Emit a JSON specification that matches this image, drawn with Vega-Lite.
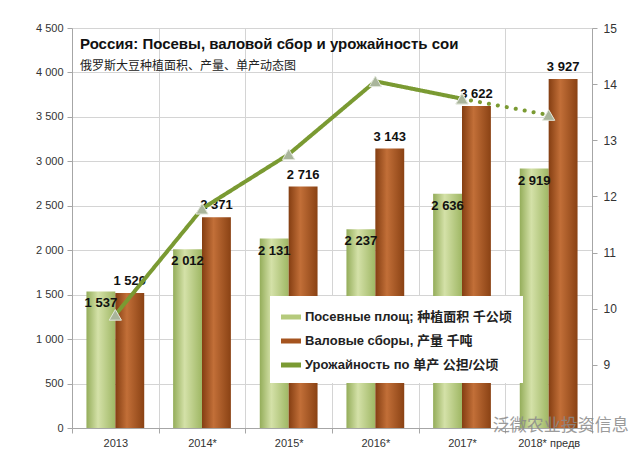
{
  "$schema": "https://vega.github.io/schema/vega-lite/v6.json",
  "width": 520,
  "height": 400,
  "autosize": "none",
  "padding": {"left": 72, "top": 28, "right": 48, "bottom": 33},
  "background": "white",
  "config": {
    "locale": {"number": {"decimal": ",", "thousands": " ", "grouping": [3], "currency": ["", ""]}},
    "font": "Liberation Sans",
    "view": {"stroke": null},
    "axis": {"labelFont": "Liberation Sans", "labelFontSize": 11, "labelColor": "#333333", "domainColor": "#a6a6a6", "tickColor": "#a6a6a6", "gridColor": "#d4d4d4", "title": null}
  },
  "title": {
    "text": "Россия: Посевы, валовой сбор и урожайность сои",
    "subtitle": "俄罗斯大豆种植面积、产量、单产动态图",
    "anchor": "start",
    "frame": "group",
    "orient": "top",
    "offset": -50,
    "dx": 8,
    "font": "Liberation Sans",
    "fontSize": 15,
    "fontWeight": "bold",
    "color": "#111111",
    "subtitleFont": "Noto Sans CJK SC",
    "subtitleFontSize": 12,
    "subtitleColor": "#222222",
    "subtitlePadding": 9
  },
  "datasets": {
    "bars": [
      {"year": "2013", "series": "area", "value": 1537},
      {"year": "2013", "series": "prod", "value": 1520},
      {"year": "2014*", "series": "area", "value": 2012},
      {"year": "2014*", "series": "prod", "value": 2371},
      {"year": "2015*", "series": "area", "value": 2131},
      {"year": "2015*", "series": "prod", "value": 2716},
      {"year": "2016*", "series": "area", "value": 2237},
      {"year": "2016*", "series": "prod", "value": 3143},
      {"year": "2017*", "series": "area", "value": 2636},
      {"year": "2017*", "series": "prod", "value": 3622},
      {"year": "2018* предв", "series": "area", "value": 2919},
      {"year": "2018* предв", "series": "prod", "value": 3927}
    ],
    "yield": [
      {"year": "2013", "yield": 9.89, "seg": "a"},
      {"year": "2014*", "yield": 11.78, "seg": "a"},
      {"year": "2015*", "yield": 12.75, "seg": "a"},
      {"year": "2016*", "yield": 14.05, "seg": "a"},
      {"year": "2017*", "yield": 13.74, "seg": "a"},
      {"year": "2017*", "yield": 13.74, "seg": "b"},
      {"year": "2018* предв", "yield": 13.45, "seg": "b"}
    ],
    "mark": [
      {"year": "2018* предв", "base": 0, "label": "泛微农业投资信息"}
    ]
  },
  "encoding": {
    "x": {
      "field": "year",
      "type": "nominal",
      "scale": {"domain": ["2013", "2014*", "2015*", "2016*", "2017*", "2018* предв"], "paddingInner": 0, "paddingOuter": 0},
      "axis": {"labelAngle": 0, "grid": true, "tickBand": "extent", "tickSize": 5, "labelPadding": 4, "domainColor": "#a6a6a6"}
    }
  },
  "layer": [
    {
      "encoding": {
        "y": {
          "field": "value",
          "type": "quantitative",
          "scale": {"domain": [0, 4500], "nice": false},
          "axis": {"values": [0, 500, 1000, 1500, 2000, 2500, 3000, 3500, 4000, 4500], "format": ",.0f", "grid": true, "tickSize": 5, "labelPadding": 4, "orient": "left"}
        }
      },
      "layer": [
        {
          "data": {"name": "bars"},
          "transform": [{"filter": "datum.series === 'area'"}],
          "mark": {"type": "bar", "fill": {"gradient": "linear", "x1": 0, "x2": 1, "y1": 0, "y2": 0, "stops": [{"offset": 0, "color": "#94ad5a"}, {"offset": 0.4, "color": "#d4e1a8"}, {"offset": 1, "color": "#9fb764"}]}},
          "encoding": {
            "xOffset": {"field": "series", "type": "nominal", "scale": {"domain": ["area", "prod"], "paddingOuter": 0.5, "paddingInner": 0}}
          }
        },
        {
          "data": {"name": "bars"},
          "transform": [{"filter": "datum.series === 'prod'"}],
          "mark": {"type": "bar", "fill": {"gradient": "linear", "x1": 0, "x2": 1, "y1": 0, "y2": 0, "stops": [{"offset": 0, "color": "#843e12"}, {"offset": 0.4, "color": "#c26f38"}, {"offset": 1, "color": "#8a4214"}]}},
          "encoding": {
            "xOffset": {"field": "series", "type": "nominal", "scale": {"domain": ["area", "prod"], "paddingOuter": 0.5, "paddingInner": 0}}
          }
        },
        {
          "data": {"name": "bars"},
          "transform": [{"filter": "datum.series === 'area'"}],
          "mark": {"type": "text", "fontSize": 13, "fontWeight": "bold", "color": "#111111", "dy": 12},
          "encoding": {
            "xOffset": {"field": "series", "type": "nominal", "scale": {"domain": ["area", "prod"], "paddingOuter": 0.5, "paddingInner": 0}},
            "text": {"field": "value", "type": "quantitative", "format": ",.0f"}
          }
        },
        {
          "data": {"name": "bars"},
          "transform": [{"filter": "datum.series === 'prod'"}],
          "mark": {"type": "text", "fontSize": 13, "fontWeight": "bold", "color": "#111111", "dy": -12},
          "encoding": {
            "xOffset": {"field": "series", "type": "nominal", "scale": {"domain": ["area", "prod"], "paddingOuter": 0.5, "paddingInner": 0}},
            "text": {"field": "value", "type": "quantitative", "format": ",.0f"}
          }
        },
        {
          "data": {"name": "mark"},
          "mark": {"type": "text", "font": "Noto Sans CJK SC", "fontSize": 17, "color": "#8a8a8a", "opacity": 0.85, "dx": 12, "dy": -2, "baseline": "middle"},
          "encoding": {
            "y": {"field": "base", "type": "quantitative"},
            "text": {"field": "label", "type": "nominal"}
          }
        }
      ]
    },
    {
      "data": {"name": "yield"},
      "encoding": {
        "y": {
          "field": "yield",
          "type": "quantitative",
          "scale": {"domain": [7.875, 15], "nice": false, "zero": false},
          "axis": {"orient": "right", "values": [9, 10, 11, 12, 13, 14, 15], "grid": false, "tickSize": 5, "labelPadding": 6, "labelFontSize": 12}
        }
      },
      "layer": [
        {
          "mark": {"type": "line", "strokeWidth": 4, "strokeCap": "round"},
          "encoding": {
            "color": {
              "datum": "Урожайность по 单产 公担/公顷",
              "type": "nominal",
              "scale": {
                "domain": ["Посевные площ; 种植面积 千公顷", "Валовые сборы, 产量 千吨", "Урожайность по 单产 公担/公顷"],
                "range": ["#b5ca7c", "#a5541f", "#7a9a32"]
              },
              "legend": {
                "orient": "none",
                "legendX": 198,
                "legendY": 268,
                "title": null,
                "fillColor": "white",
                "padding": 11,
                "symbolType": "M-1,-0.25H1V0.25H-1Z",
                "symbolSize": 400,
                "symbolStrokeWidth": 0,
                "labelFont": "Liberation Sans, Noto Sans CJK SC",
                "labelFontSize": 13,
                "labelFontWeight": "bold",
                "labelColor": "#222222",
                "labelLimit": 320,
                "rowPadding": 7,
                "labelOffset": 4,
                "encode": {"symbols": {"update": {"fill": {"scale": "color", "field": "value"}, "stroke": {"value": "transparent"}}}}
              }
            },
            "strokeDash": {
              "field": "seg",
              "type": "nominal",
              "scale": {"domain": ["a", "b"], "range": [[1, 0], [0.1, 9]]},
              "legend": null
            }
          }
        },
        {
          "mark": {"type": "point", "shape": "triangle-up", "filled": true, "size": 150, "fill": "#a9b59b", "stroke": "#e3e8dc", "strokeWidth": 1, "opacity": 1}
        }
      ]
    }
  ],
  "resolve": {"scale": {"y": "independent"}}
}
